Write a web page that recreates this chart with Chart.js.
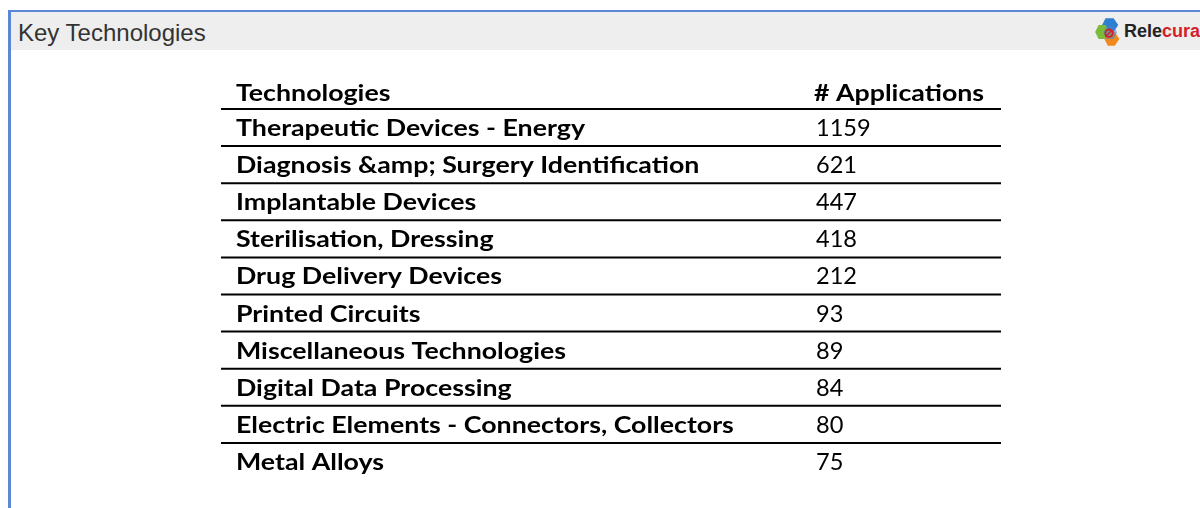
<!DOCTYPE html>
<html>
<head>
<meta charset="utf-8">
<script src="https://cdn.jsdelivr.net/npm/chart.js@4.4.0/dist/chart.umd.min.js"></script>
<style>
  html, body { margin: 0; padding: 0; background: #ffffff; width: 1200px; height: 508px; overflow: hidden; }
  #frame { position: absolute; left: 8px; top: 10px; width: 1192px; height: 498px; border-top: 2px solid #5a88d6; border-left: 3px solid #5a88d6; }
  #band { position: absolute; left: 11px; top: 12px; width: 1189px; height: 38px; background: #eeeeee; }
  #title { position: absolute; left: 18px; top: 19px; font-family: "Liberation Sans", Arial, sans-serif; font-size: 24px; color: #333333; line-height: 28px; white-space: nowrap; }
  #logo { position: absolute; left: 1094px; top: 17px; }
  #brand { position: absolute; left: 1124px; top: 21px; font-family: "Liberation Sans", Arial, sans-serif; font-weight: bold; font-size: 18px; line-height: 20px; color: #222; white-space: nowrap; }
  #brand span { color: #d3202b; }
  #wrap { position: absolute; left: 221px; top: 60px; width: 780px; height: 440px; }
</style>
</head>
<body>
<div id="frame"></div>
<div id="band"></div>
<div id="title">Key Technologies</div>
<svg id="logo" width="30" height="30" viewBox="0 0 26 26">
  <polygon points="10,1 17,1 21,7 17,13 10,13 7,7" fill="#2f7fd0"/>
  <polygon points="4,7 10,7 14,13 10,19 4,19 1,13" fill="#7cbb3a"/>
  <polygon points="12,13 18,13 22,19 18,25 12,25 9,19" fill="#f08a1e"/>
  <polygon points="11,8 17,8 20,13.5 17,19 11,19 8,13.5" fill="#3f86d2" opacity="0.55"/>
  <circle cx="13" cy="14" r="3.2" fill="none" stroke="#d3202b" stroke-width="1.6"/>
  <line x1="10" y1="17" x2="16" y2="11" stroke="#d3202b" stroke-width="1.2"/>
</svg>
<div id="brand">Rele<span>cura</span></div>
<div id="wrap"><canvas id="c" width="780" height="440"></canvas></div>
<script>
const headerLabel = "Technologies";
const headerValue = "# Applications";
const technologies = [
  "Therapeutic Devices - Energy",
  "Diagnosis &amp; Surgery Identification",
  "Implantable Devices",
  "Sterilisation, Dressing",
  "Drug Delivery Devices",
  "Printed Circuits",
  "Miscellaneous Technologies",
  "Digital Data Processing",
  "Electric Elements - Connectors, Collectors",
  "Metal Alloys"
];
const applications = [1159, 621, 447, 418, 212, 93, 89, 84, 80, 75];

const BOLD = "bold 23px Lato";
const REG = "23px Lato";

const tablePlugin = {
  id: 'tablePlugin',
  afterDatasetsDraw(chart) {
    const ctx = chart.ctx;
    const y = chart.scales.y;
    const area = chart.chartArea;
    const n = chart.data.labels.length;
    const rowH = n > 1 ? (y.getPixelForValue(1) - y.getPixelForValue(0)) : area.bottom - area.top;
    ctx.save();
    ctx.font = BOLD;
    const sxB = 349 / ctx.measureText(technologies[0]).width;
    ctx.font = REG;
    const sxR = 54.7 / ctx.measureText(String(applications[0])).width;
    ctx.fillStyle = '#000';
    ctx.textBaseline = 'alphabetic';
    ctx.textAlign = 'left';
    const draw = (t, x, yy, font, sx) => {
      ctx.save();
      ctx.font = font;
      ctx.translate(x, yy);
      ctx.scale(sx, 1);
      ctx.fillText(t, 0, 0);
      ctx.restore();
    };
    const labelX = 15, valueX = 595;
    const firstTop = y.getPixelForValue(0) - rowH / 2;
    draw(headerLabel, labelX, firstTop - 8, BOLD, sxB);
    draw(headerValue, valueX - 2, firstTop - 8, BOLD, sxB);
    ctx.strokeStyle = '#000';
    ctx.lineWidth = 2;
    chart.data.labels.forEach((lab, i) => {
      const c = y.getPixelForValue(i);
      const top = c - rowH / 2;
      ctx.beginPath();
      ctx.moveTo(0, top);
      ctx.lineTo(chart.width, top);
      ctx.stroke();
      draw(lab, labelX, top + 27, BOLD, sxB);
      const v = chart.data.datasets[0].data[i];
      draw(String(v), valueX, top + 27, REG, sxR);
    });
    ctx.restore();
  }
};

new Chart(document.getElementById('c'), {
  type: 'bar',
  data: {
    labels: technologies,
    datasets: [{ label: headerValue, data: applications, backgroundColor: 'rgba(0,0,0,0)', borderWidth: 0 }]
  },
  options: {
    indexAxis: 'y',
    responsive: false,
    animation: false,
    layout: { padding: { top: 49, bottom: 20, left: 0, right: 0 } },
    plugins: { legend: { display: false }, tooltip: { enabled: false }, title: { display: false } },
    scales: {
      x: { display: false, min: 0 },
      y: { type: 'category', display: false, offset: true }
    }
  },
  plugins: [tablePlugin]
});
</script>
</body>
</html>
